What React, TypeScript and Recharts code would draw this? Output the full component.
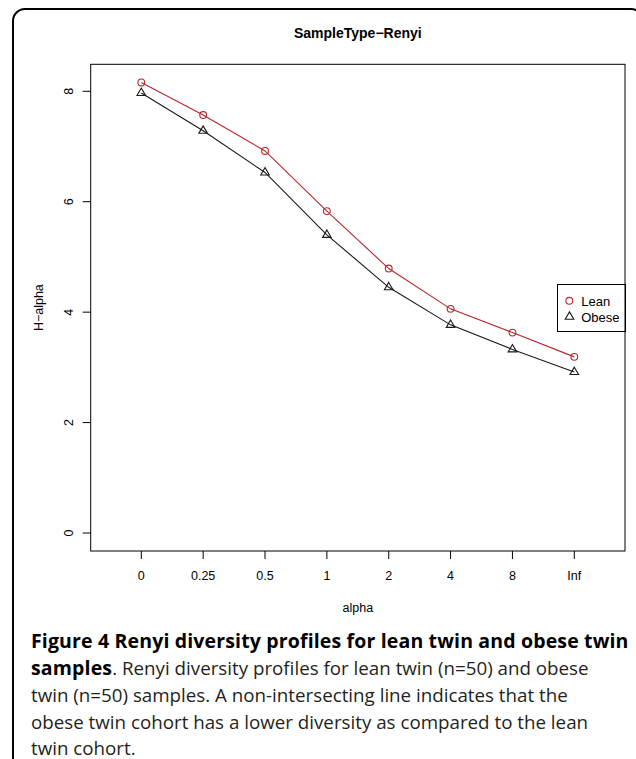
import React from 'react';
import { LineChart, Line, XAxis, YAxis, Legend } from 'recharts';

// ---- data ----
const alphaLabels = ['0', '0.25', '0.5', '1', '2', '4', '8', 'Inf'];
const leanValues = [8.16, 7.57, 6.92, 5.83, 4.79, 4.06, 3.63, 3.19];
const obeseValues = [7.97, 7.285, 6.53, 5.4, 4.45, 3.77, 3.325, 2.915];
const yTicks = [0, 2, 4, 6, 8];
const seriesNames = ['Lean', 'Obese'];

const data = alphaLabels.map((a, i) => ({
  alpha: a,
  Lean: leanValues[i],
  Obese: obeseValues[i],
}));

const RED = '#b8262b';
const BLACK = '#1a1a1a';
const SANS = '"Liberation Sans", Arial, Helvetica, sans-serif';

const CircleDot = (props: any) => {
  const { cx, cy, index } = props;
  if (cx == null || cy == null) return <g key={index} />;
  return <circle key={index} cx={cx} cy={cy} r={3.4} fill="none" stroke={RED} strokeWidth={1.1} />;
};

const triPath = (cx: number, cy: number) =>
  `M${cx},${cy - 4.9} L${cx + 4.3},${cy + 2.5} L${cx - 4.3},${cy + 2.5} Z`;

const TriDot = (props: any) => {
  const { cx, cy, index } = props;
  if (cx == null || cy == null) return <g key={index} />;
  return <path key={index} d={triPath(cx, cy)} fill="none" stroke={BLACK} strokeWidth={1.1} />;
};

const YTick = (props: any) => {
  const { x, y, payload } = props;
  return (
    <text
      x={x}
      y={y}
      transform={`rotate(-90 ${x} ${y})`}
      textAnchor="middle"
      fontSize={12.5}
      fill="#000"
      fontFamily={SANS}
    >
      {payload.value}
    </text>
  );
};

const YLabel = (props: any) => {
  const vb = props.viewBox || { x: 0, y: 64.3, width: 90.7, height: 486.7 };
  const x = vb.x + 43;
  const y = vb.y + vb.height / 2;
  return (
    <text x={x} y={y} transform={`rotate(-90 ${x} ${y})`} textAnchor="middle" fontSize={12.5} fill="#000" fontFamily={SANS}>
      H−alpha
    </text>
  );
};

const XLabel = (props: any) => {
  const vb = props.viewBox || { x: 90.7, y: 551, width: 534.3, height: 69 };
  return (
    <text x={vb.x + vb.width / 2} y={611.7} textAnchor="middle" fontSize={12.5} fill="#000" fontFamily={SANS}>
      alpha
    </text>
  );
};

const LegendBox = () => (
  <svg width={69} height={48} style={{ display: 'block', overflow: 'visible' }}>
    <rect x={0.5} y={0.5} width={68} height={47} fill="#fff" stroke="#000" strokeWidth={1} />
    <circle cx={12.3} cy={16.8} r={3.4} fill="none" stroke={RED} strokeWidth={1.1} />
    <text x={24.2} y={21.5} fontSize={13} fill="#000" fontFamily={SANS}>{seriesNames[0]}</text>
    <path d={triPath(12.5, 32.8)} fill="none" stroke={BLACK} strokeWidth={1.1} />
    <text x={24.2} y={37.5} fontSize={13} fill="#000" fontFamily={SANS}>{seriesNames[1]}</text>
  </svg>
);

export default function App() {
  return (
    <div
      style={{
        position: 'absolute',
        left: 0,
        top: 0,
        width: 636,
        height: 759,
        overflow: 'hidden',
        background: '#fff',
      }}
    >
      <div style={{ position: 'absolute', left: 0, top: 0 }}>
        <LineChart
          width={636}
          height={620}
          data={data}
          margin={{ top: 64.3, right: 11, bottom: 0, left: 0 }}
        >
          <XAxis
            dataKey="alpha"
            type="category"
            interval={0}
            height={69}
            padding={{ left: 50.6, right: 50.7 }}
            axisLine={false}
            tickLine={{ stroke: '#000', strokeWidth: 1 }}
            tickSize={8}
            tickMargin={12}
            tick={{ fontSize: 12.5, fill: '#000', fontFamily: SANS }}
            label={<XLabel />}
          />
          <YAxis
            type="number"
            width={90.7}
            domain={[-0.326, 8.489]}
            allowDataOverflow
            ticks={yTicks}
            axisLine={false}
            tickLine={{ stroke: '#000', strokeWidth: 1 }}
            tickSize={8}
            tickMargin={10}
            tick={<YTick />}
            label={<YLabel />}
          />
          <Legend
            layout="horizontal"
            verticalAlign="middle"
            align="center"
            content={<LegendBox />}
            wrapperStyle={{ position: 'absolute', left: 556.5, top: 283.5, width: 69, height: 48, margin: 0, padding: 0 }}
          />
          <Line
            type="linear"
            dataKey="Lean"
            name={seriesNames[0]}
            stroke={RED}
            strokeWidth={1.1}
            dot={CircleDot}
            activeDot={false}
            isAnimationActive={false}
          />
          <Line
            type="linear"
            dataKey="Obese"
            name={seriesNames[1]}
            stroke={BLACK}
            strokeWidth={1.1}
            dot={TriDot}
            activeDot={false}
            isAnimationActive={false}
          />
        </LineChart>
      </div>

      <svg
        width={636}
        height={759}
        style={{ position: 'absolute', left: 0, top: 0, pointerEvents: 'none' }}
      >
        <rect x={90.7} y={64.3} width={534.3} height={486.7} fill="none" stroke="#000" strokeWidth={1} />
        <text x={357.85} y={37.7} textAnchor="middle" fontSize={14} fontWeight="bold" fill="#000" fontFamily={SANS}>
          SampleType−Renyi
        </text>
        <rect x={13} y={9} width={630} height={800} rx={12} ry={12} fill="none" stroke="#000" strokeWidth={2} />
      </svg>

      <div
        style={{
          position: 'absolute',
          left: 31,
          top: 626.5,
          fontFamily: '"Open Sans", "Noto Sans", sans-serif',
          fontSize: 18.75,
          lineHeight: '27.1px',
          color: '#231f20',
          whiteSpace: 'nowrap',
        }}
      >
        <div>
          <b style={{ color: '#000', fontSize: 19.5, letterSpacing: 0.15 }}>
            Figure 4 Renyi diversity profiles for lean twin and obese twin
            <br />
            samples
          </b>
          . Renyi diversity profiles for lean twin (n=50) and obese
          <br />
          twin (n=50) samples. A non-intersecting line indicates that the
          <br />
          obese twin cohort has a lower diversity as compared to the lean
        </div>
        <div style={{ lineHeight: '20px', marginTop: 3.5 }}>twin cohort.</div>
      </div>
    </div>
  );
}
